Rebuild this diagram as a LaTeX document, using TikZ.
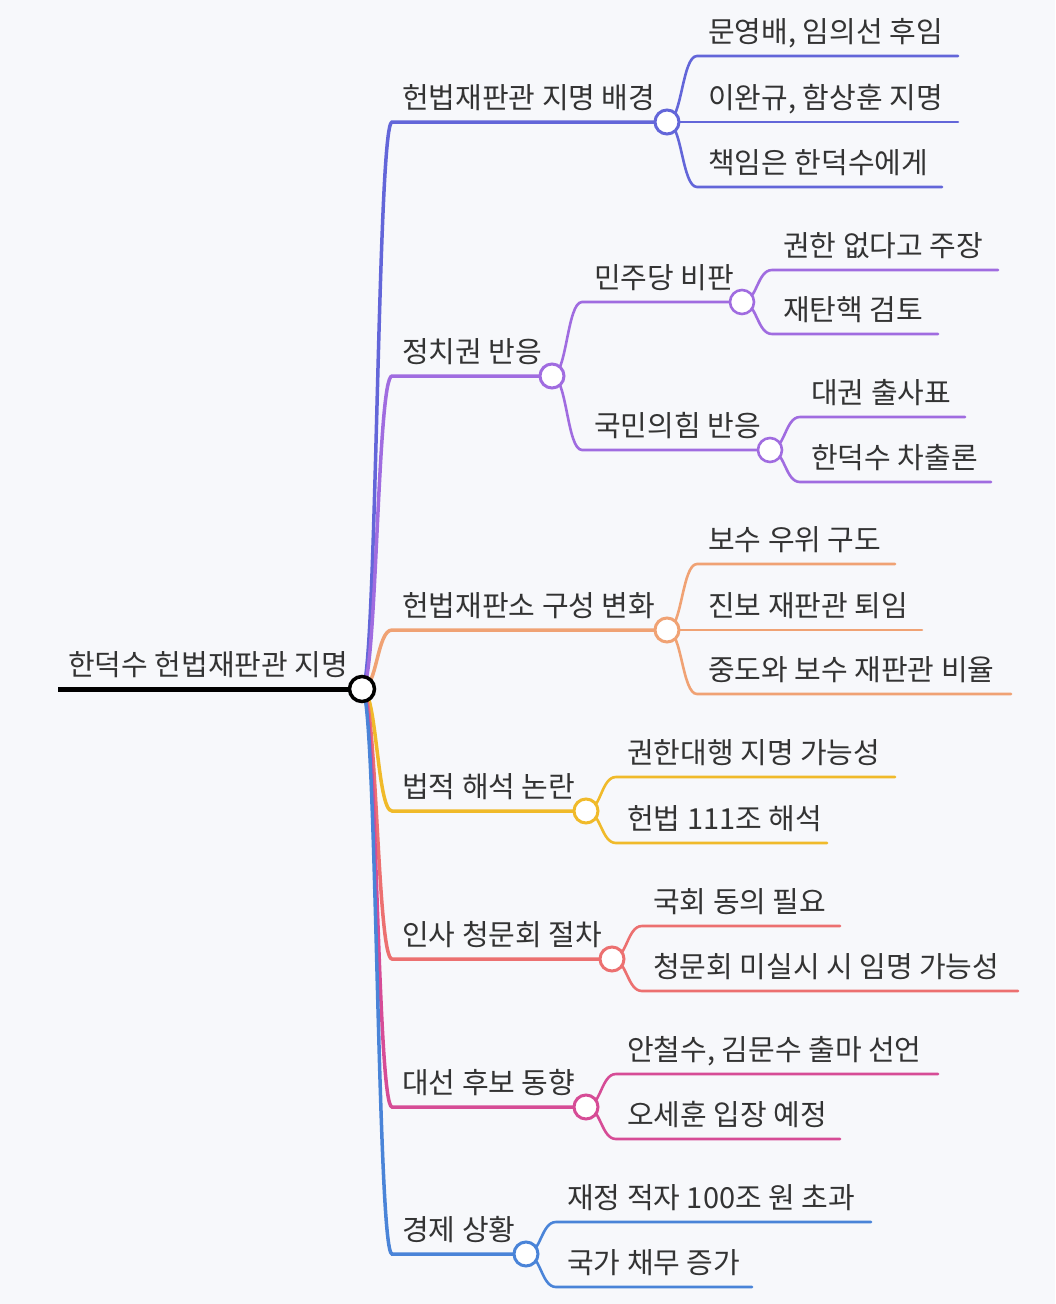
\documentclass[tikz,border=0pt]{standalone}
\usepackage{fontspec}
\setmainfont{Noto Sans CJK KR}
\usetikzlibrary{backgrounds}

\definecolor{bgc}{HTML}{F7F8FB}
\definecolor{txt}{HTML}{333333}
\definecolor{cA}{HTML}{6366D9}
\definecolor{cB}{HTML}{A06CE0}
\definecolor{cC}{HTML}{F0A274}
\definecolor{cD}{HTML}{F0BA2A}
\definecolor{cE}{HTML}{EC7070}
\definecolor{cF}{HTML}{D64C96}
\definecolor{cG}{HTML}{4A84D8}

\tikzset{
    lbl/.style={anchor=base west, inner sep=0pt, text=txt, font=\fontsize{29}{33}\selectfont},
    dot/.style={circle, fill=white, line width=3pt, minimum size=24pt, inner sep=0pt},
    br/.style={line width=3.5pt, line cap=round},
    leaf/.style={line width=2.6pt, line cap=round},
}

\begin{document}
\begin{tikzpicture}[x=1pt, y=-1pt]
    \useasboundingbox (0, 0) rectangle (1055, 1304);
    \begin{pgfonlayer}{background}
        \fill[bgc] (0, 0) rectangle (1055, 1304);
    \end{pgfonlayer}

    % 루트
    \coordinate (r0) at (58, 689);
    \node[dot, draw=black, line width=3.5pt, minimum size=25pt] (root) at (362, 689) {};
    \node[lbl] (rootlbl) at (68, 675) {한덕수 헌법재판관 지명};
    \begin{pgfonlayer}{background}
        \draw[line width=5pt] (r0) -- (root.center);
    \end{pgfonlayer}

    % 1단계 가지
    \foreach \n/\x/\y/\c/\t in {a/667/122/cA/{헌법재판관 지명 배경},
            b/552/376/cB/{정치권 반응}, c/667/630/cC/{헌법재판소 구성 변화},
            d/586/811/cD/{법적 해석 논란}, e/612/959/cE/{인사 청문회 절차},
            f/586/1107/cF/{대선 후보 동향}, g/526/1254/cG/{경제 상황}} {
        \coordinate (\n k) at (392, \y);
        \node[dot, draw=\c] (\n) at (\x, \y) {};
        \node[lbl] (\n-lbl) at (402, \y-14) {\t};
        \begin{pgfonlayer}{background}
            \draw[br, \c] (root.center) .. controls +(15, 0) and +(-15, 0) .. (\n k) -- (\n.center);
        \end{pgfonlayer}
    }

    % 2단계 (정치권 반응)
    \foreach \n/\x/\y/\t in {b1/742/302/{민주당 비판}, b2/770/450/{국민의힘 반응}} {
        \coordinate (\n k) at (582, \y);
        \node[dot, draw=cB, line width=2.6pt] (\n) at (\x, \y) {};
        \node[lbl] (\n-lbl) at (594, \y-14) {\t};
        \begin{pgfonlayer}{background}
            \draw[leaf, cB] (b.center) .. controls +(15, 0) and +(-15, 0) .. (\n k) -- (\n.center);
        \end{pgfonlayer}
    }

    % 잎
    \foreach \p/\kx/\c/\y/\xe/\t [count=\i] in {
            a/697/cA/56/958/{문영배, 임의선 후임}, a/697/cA/122/958/{이완규, 함상훈 지명},
            a/697/cA/187/942/{책임은 한덕수에게},
            b1/772/cB/270/998/{권한 없다고 주장}, b1/772/cB/334/938/{재탄핵 검토},
            b2/800/cB/417/965/{대권 출사표}, b2/800/cB/482/991/{한덕수 차출론},
            c/697/cC/564/895/{보수 우위 구도}, c/697/cC/630/922/{진보 재판관 퇴임},
            c/697/cC/694/1011/{중도와 보수 재판관 비율},
            d/616/cD/777/895/{권한대행 지명 가능성}, d/616/cD/843/827/{헌법 111조 해석},
            e/642/cE/926/840/{국회 동의 필요}, e/642/cE/991/1018/{청문회 미실시 시 임명 가능성},
            f/616/cF/1074/938/{안철수, 김문수 출마 선언}, f/616/cF/1139/840/{오세훈 입장 예정},
            g/556/cG/1222/871/{재정 적자 100조 원 초과}, g/556/cG/1287/752/{국가 채무 증가}} {
        \coordinate (l\i k) at (\kx, \y);
        \coordinate (l\i e) at (\xe, \y);
        \node[lbl] (l\i-lbl) at (\kx+11, \y-14) {\t};
        \begin{pgfonlayer}{background}
            \draw[leaf, \c] (\p.center) .. controls +(15, 0) and +(-15, 0) .. (l\i k) -- (l\i e);
        \end{pgfonlayer}
    }
\end{tikzpicture}
\end{document}
